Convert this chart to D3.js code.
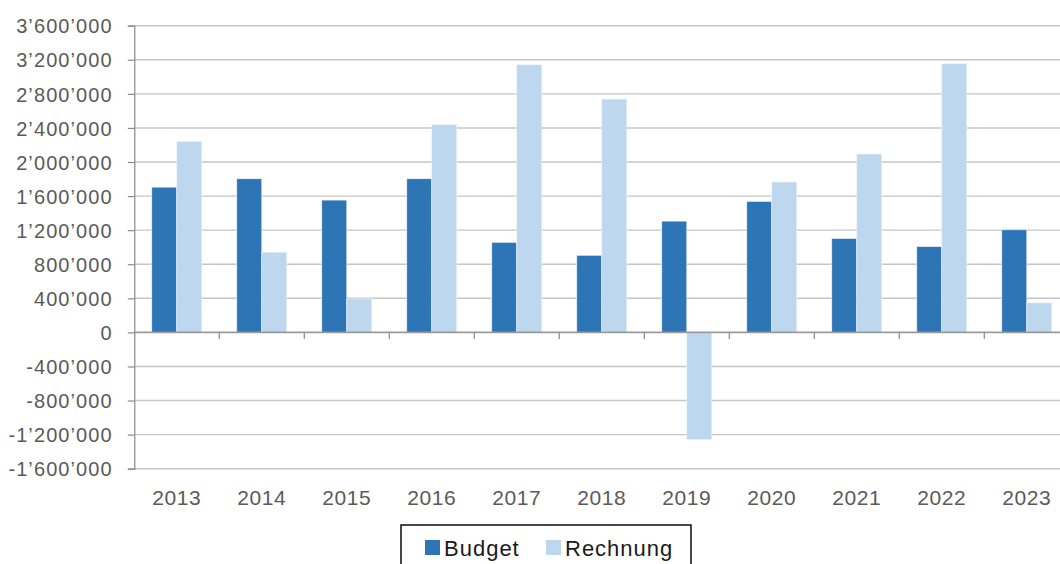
<!DOCTYPE html>
<html>
<head>
<meta charset="utf-8">
<script src="https://cdn.jsdelivr.net/npm/d3@7"></script>
<style>
  body { margin: 0; background: #fff; }
  svg { display: block; font-family: "Liberation Sans", Arial, sans-serif; }
</style>
</head>
<body>
<svg width="1060" height="564"></svg>
<script>
var years = ["2013", "2014", "2015", "2016", "2017", "2018", "2019", "2020", "2021", "2022", "2023"];
var budget = [1705000, 1803000, 1553000, 1803000, 1057000, 905000, 1306000, 1537000, 1102000, 1007000, 1204000];
var rechnung = [2242000, 941000, 393000, 2439000, 3141000, 2738000, -1258000, 1765000, 2094000, 3153000, 346000];
var yTicks = [-1600000, -1200000, -800000, -400000, 0, 400000, 800000, 1200000, 1600000, 2000000, 2400000, 2800000, 3200000, 3600000];
var seriesNames = ["Budget", "Rechnung"];
var colors = ["#2e75b6", "#bdd7ee"];

var svg = d3.select("svg");

var x = d3.scaleBand().domain(years).range([134.3, 1069.3]).paddingInner(0).paddingOuter(0);
var y = d3.scaleLinear().domain([-1600000, 3600000]).range([468.7, 25.7]);

function fmt(v) {
    return d3.format(",")(v).replace(/,/g, "\u2019").replace("\u2212", "-");
}

// gridlines
svg.append("g")
    .selectAll("line")
    .data(yTicks.filter(function (d) { return d !== 0; }))
    .enter()
    .append("line")
    .attr("x1", 134.3)
    .attr("x2", 1069.3)
    .attr("y1", function (d) { return y(d); })
    .attr("y2", function (d) { return y(d); })
    .attr("stroke", "#c6c6c6")
    .attr("stroke-width", 1.4);

// bars
var groupW = 50;
var barW = groupW / 2;
var data = [];
years.forEach(function (yr, i) {
    data.push({ year: yr, s: 0, v: budget[i] });
    data.push({ year: yr, s: 1, v: rechnung[i] });
});

svg.append("g")
    .selectAll("rect")
    .data(data)
    .enter()
    .append("rect")
    .attr("x", function (d) { return x(d.year) + (x.bandwidth() - groupW) / 2 + d.s * barW; })
    .attr("width", barW)
    .attr("y", function (d) { return Math.min(y(d.v), y(0)); })
    .attr("height", function (d) { return Math.abs(y(d.v) - y(0)); })
    .attr("fill", function (d) { return colors[d.s]; })
    .attr("stroke", "#eef4fb")
    .attr("stroke-width", 0.6);

// zero line with category ticks
svg.append("line")
    .attr("x1", 134.3).attr("x2", 1069.3)
    .attr("y1", y(0)).attr("y2", y(0))
    .attr("stroke", "#9a9a9a")
    .attr("stroke-width", 1.6);

svg.append("g")
    .selectAll("line")
    .data(years.slice(1))
    .enter()
    .append("line")
    .attr("x1", function (d) { return x(d); })
    .attr("x2", function (d) { return x(d); })
    .attr("y1", y(0))
    .attr("y2", y(0) + 6.5)
    .attr("stroke", "#8a8a8a")
    .attr("stroke-width", 1.2);

// y axis
var yAxis = d3.axisLeft(y).tickValues(yTicks).tickSize(6.5).tickPadding(15).tickFormat(fmt);
var gy = svg.append("g").attr("transform", "translate(134.3,0)").call(yAxis);
gy.select(".domain").attr("stroke", "#8a8a8a").attr("stroke-width", 1.2);
gy.selectAll(".tick line").attr("stroke", "#8a8a8a").attr("stroke-width", 1.2);
gy.selectAll(".tick text")
    .attr("font-size", 20)
    .attr("font-family", "Liberation Sans, Arial, sans-serif")
    .attr("letter-spacing", 1.1)
    .attr("fill", "#5a5a5a")
    .attr("dy", "0.36em");

// x labels
svg.append("g")
    .selectAll("text")
    .data(years)
    .enter()
    .append("text")
    .attr("x", function (d) { return x(d) + x.bandwidth() / 2; })
    .attr("y", 505)
    .attr("text-anchor", "middle")
    .attr("font-size", 21)
    .attr("letter-spacing", 0.6)
    .attr("fill", "#5a5a5a")
    .text(function (d) { return d; });

// legend
var legend = svg.append("g");
legend.append("rect")
    .attr("x", 401)
    .attr("y", 525)
    .attr("width", 290)
    .attr("height", 50)
    .attr("fill", "#fff")
    .attr("stroke", "#1a1a1a")
    .attr("stroke-width", 1.6);

var legX = [425, 546];
seriesNames.forEach(function (name, i) {
    legend.append("rect")
        .attr("x", legX[i])
        .attr("y", 540)
        .attr("width", 15)
        .attr("height", 15)
        .attr("fill", colors[i]);
    legend.append("text")
        .attr("x", legX[i] + 19)
        .attr("y", 556)
        .attr("font-size", 22)
        .attr("letter-spacing", 1)
        .attr("fill", "#1a1a1a")
        .text(name);
});
</script>
</body>
</html>
